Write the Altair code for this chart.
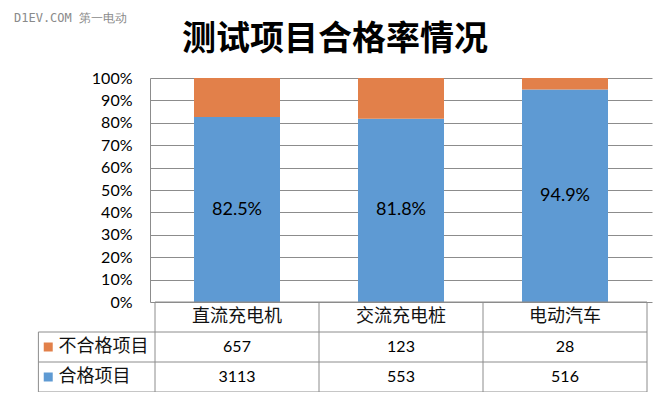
import altair as alt
import pandas as pd

categories = ["直流充电机", "交流充电桩", "电动汽车"]
passed = [3113, 553, 516]
failed = [657, 123, 28]
pass_rate = [82.5, 81.8, 94.9]
series_names = ["不合格项目", "合格项目"]
title_text = "测试项目合格率情况"
watermark = "D1EV.COM 第一电动"
tick_values = [i / 10 for i in range(11)]

BLUE = "#5E9AD3"
ORANGE = "#E2804A"
GRID = "#8c8c8c"
CJK = "Noto Sans CJK SC"
NUM = "Lato"

# long data for stacked bars
rows = []
for i, c in enumerate(categories):
    rows.append({"cat": c, "xc": i + 0.5, "series": "合格项目", "value": passed[i], "ord": 0})
    rows.append({"cat": c, "xc": i + 0.5, "series": "不合格项目", "value": failed[i], "ord": 1})
bars_df = pd.DataFrame(rows)

pct_df = pd.DataFrame({
    "xc": [i + 0.5 for i in range(len(categories))],
    "mid": [p / 200 for p in pass_rate],
    "label": [f"{p:.1f}%" for p in pass_rate],
})

# table cells
cells = []
for i, c in enumerate(categories):
    cells.append({"xc": i + 0.5, "row": 0.5, "text": c, "kind": "cat"})
    cells.append({"xc": i + 0.5, "row": 1.5, "text": str(failed[i]), "kind": "num"})
    cells.append({"xc": i + 0.5, "row": 2.5, "text": str(passed[i]), "kind": "num"})
cells_df = pd.DataFrame(cells)

LEG_LEFT = -0.711
legend_df = pd.DataFrame({
    "series": series_names,
    "row": [1.5, 2.5],
    "sx": [-0.651, -0.651],
    "tx": [-0.588, -0.588],
})

ncol = len(categories)
lines = [{"x1": 0, "x2": ncol, "y1": 0, "y2": 0}]
for r in [1, 2, 3]:
    lines.append({"x1": LEG_LEFT, "x2": ncol, "y1": r, "y2": r})
lines.append({"x1": LEG_LEFT, "x2": LEG_LEFT, "y1": 1, "y2": 3})
for c in range(ncol + 1):
    lines.append({"x1": c, "x2": c, "y1": 0, "y2": 3})
lines_df = pd.DataFrame(lines)

xscale = alt.Scale(domain=[0, ncol], nice=False, zero=False)
yscale = alt.Scale(domain=[0, 1], range=[224, 0], nice=False)
tscale = alt.Scale(domain=[0, 3], range=[224, 314], nice=False)
cscale = alt.Scale(domain=["合格项目", "不合格项目"], range=[BLUE, ORANGE])

yaxis = alt.Axis(values=tick_values, format=".0%", title=None, ticks=False,
                 labelFont=NUM, labelFontSize=16, labelColor="#000",
                 labelPadding=18, domainColor=GRID, gridColor=GRID,
                 grid=True, gridWidth=1)

bars = alt.Chart(bars_df).mark_bar(size=86).encode(
    x=alt.X("xc:Q", scale=xscale, axis=None),
    y=alt.Y("value:Q", stack="normalize", scale=yscale, axis=yaxis),
    color=alt.Color("series:N", scale=cscale, legend=None),
    order=alt.Order("ord:Q"),
)

pct = alt.Chart(pct_df).mark_text(font=NUM, fontSize=18, color="#000", baseline="middle").encode(
    x=alt.X("xc:Q", scale=xscale, axis=None),
    y=alt.Y("mid:Q", scale=yscale, axis=yaxis),
    text="label:N",
)

top = alt.layer(bars, pct)

rules = alt.Chart(lines_df).mark_rule(color=GRID, strokeWidth=1).encode(
    x=alt.X("x1:Q", scale=xscale, axis=None),
    x2="x2:Q",
    y=alt.Y("y1:Q", scale=tscale, axis=None),
    y2="y2:Q",
)

cat_text = alt.Chart(cells_df).transform_filter("datum.kind == 'cat'").mark_text(
    font=CJK, fontSize=18, color="#111", baseline="middle").encode(
    x=alt.X("xc:Q", scale=xscale, axis=None),
    y=alt.Y("row:Q", scale=tscale, axis=None),
    text="text:N",
)

num_text = alt.Chart(cells_df).transform_filter("datum.kind == 'num'").mark_text(
    font=NUM, fontSize=16, color="#000", baseline="middle").encode(
    x=alt.X("xc:Q", scale=xscale, axis=None),
    y=alt.Y("row:Q", scale=tscale, axis=None),
    text="text:N",
)

squares = alt.Chart(legend_df).mark_square(size=81, opacity=1).encode(
    x=alt.X("sx:Q", scale=xscale, axis=None),
    y=alt.Y("row:Q", scale=tscale, axis=None),
    color=alt.Color("series:N", scale=cscale, legend=None),
)

leg_text = alt.Chart(legend_df).mark_text(
    font=CJK, fontSize=18, color="#111", baseline="middle", align="left").encode(
    x=alt.X("tx:Q", scale=xscale, axis=None),
    y=alt.Y("row:Q", scale=tscale, axis=None),
    text="series:N",
)

table = alt.layer(rules, squares, leg_text, cat_text, num_text)

wm = alt.Chart(pd.DataFrame({"t": [watermark]})).mark_text(
    font="DejaVu Sans Mono", fontSize=12, color="#8a8a8a", align="left", baseline="middle").encode(
    x=alt.value(-136), y=alt.value(-60), text="t:N")

ttl = alt.Chart(pd.DataFrame({"t": [title_text]})).mark_text(
    font=CJK, fontSize=34, fontWeight="bold", color="#000", align="center",
    baseline="alphabetic").encode(
    x=alt.value(185), y=alt.value(-28), text="t:N")

chart = alt.layer(top, table, wm, ttl).resolve_scale(y="independent").properties(
    width=502, height=314,
    padding={"left": 142, "top": 70, "right": 10, "bottom": 0},
    autosize=alt.AutoSizeParams(type="none"),
).configure_view(stroke=None)

chart.save("out.html", embed_options={"renderer": "svg", "actions": False})
